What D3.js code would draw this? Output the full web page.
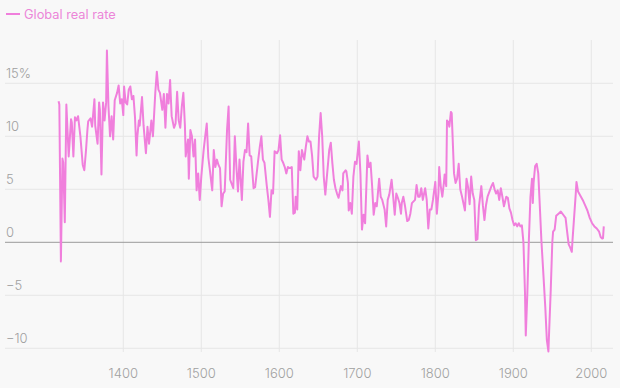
<!DOCTYPE html>
<html>
<head>
<meta charset="utf-8">
<script src="https://cdn.jsdelivr.net/npm/d3@7"></script>
<style>
  html, body { margin: 0; padding: 0; background: #f8f8f8; }
  svg { display: block; font-family: "Inter", "Roboto", "Liberation Sans", sans-serif; }
</style>
</head>
<body>
<svg id="chart" width="620" height="388"></svg>
<script>
const seriesName = "Global real rate";
const xTicks = [1400, 1500, 1600, 1700, 1800, 1900, 2000];
const yTicks = [-10, -5, 0, 5, 10, 15];
const yTickLabels = ["\u221210", "\u22125", "0", "5", "10", "15%"];

const years = [
1317,1318,1320,1322,1323,1325,1327,1330,1333,1334,1336,1338,1340,1342,1345,1348,1350,1352,1354,1355,
1358,1360,1363,1364,1367,1369,1370,1372,1374,1376,1378,1379,1381,1383,1385,1387,1389,1392,1394,1396,
1398,1400,1401,1403,1405,1407,1409,1411,1413,1415,1417,1418,1420,1421,1424,1426,1429,1431,1433,1436,
1438,1441,1443,1445,1447,1450,1452,1454,1456,1458,1460,1462,1465,1467,1469,1471,1473,1475,1477,1479,
1480,1483,1484,1486,1488,1490,1492,1494,1496,1498,1500,1503,1505,1507,1509,1511,1514,1516,1518,1520,
1522,1524,1526,1528,1530,1533,1535,1537,1539,1541,1543,1545,1547,1549,1552,1554,1556,1558,1560,1562,
1564,1565,1567,1569,1573,1575,1577,1579,1581,1584,1586,1588,1590,1592,1594,1597,1599,1601,1603,1605,
1607,1609,1611,1613,1616,1618,1620,1621,1623,1625,1627,1629,1632,1634,1636,1638,1640,1642,1644,1647,
1649,1651,1653,1655,1657,1659,1661,1664,1666,1668,1670,1672,1674,1676,1679,1681,1682,1685,1686,1688,
1689,1691,1693,1695,1697,1699,1702,1704,1706,1708,1710,1713,1715,1717,1719,1721,1723,1725,1728,1730,
1732,1735,1737,1739,1741,1744,1746,1748,1750,1752,1754,1756,1757,1759,1761,1764,1766,1768,1770,1774,
1776,1778,1780,1782,1784,1787,1789,1791,1793,1795,1797,1800,1802,1804,1805,1807,1809,1811,1812,1814,
1815,1817,1818,1820,1821,1822,1824,1826,1828,1830,1832,1834,1836,1838,1840,1842,1844,1846,1848,1850,
1852,1854,1856,1859,1861,1863,1865,1867,1870,1872,1874,1876,1878,1880,1882,1884,1886,1888,1891,1893,
1895,1897,1899,1901,1903,1905,1907,1909,1911,1913,1915,1916,1918,1920,1922,1924,1925,1926,1928,1930,
1932,1934,1936,1938,1941,1943,1945,1946,1948,1950,1951,1953,1955,1958,1961,1964,1967,1969,1971,1973,
1975,1976,1978,1980,1981,1983,1986,1989,1992,1995,1998,2001,2004,2007,2010,2012,2014,2015,2016
];
const rates = [
13.3,13.0,-1.8,7.9,7.5,1.9,13.0,8.1,11.6,11.3,8.1,11.8,11.5,11.9,10.0,7.3,6.8,8.5,10.6,11.4,
11.7,10.9,13.5,11.0,9.3,13.2,12.5,6.4,13.2,11.5,13.2,18.1,12.8,10.0,11.9,9.7,13.4,14.1,14.8,13.1,
13.5,12.0,14.7,13.2,13.0,14.4,14.7,13.5,13.8,11.8,8.2,10.0,11.5,11.0,13.7,11.0,8.4,10.9,9.3,11.5,
10.0,14.1,16.1,14.4,14.1,12.5,14.0,10.8,14.0,13.1,15.3,11.9,10.8,11.2,14.2,11.5,10.8,12.8,14.1,11.0,
8.1,9.7,6.0,10.6,10.0,8.1,9.7,4.9,6.5,4.0,6.2,8.7,10.0,11.2,8.0,6.8,4.9,8.7,7.1,7.8,
7.3,7.0,3.4,4.6,4.8,10.6,12.8,5.9,5.5,5.1,10.0,7.1,4.8,7.8,4.0,7.6,8.7,8.5,11.2,8.2,
8.1,7.1,5.1,5.2,7.8,9.0,10.0,7.8,7.5,5.3,4.0,2.4,4.9,4.6,8.6,8.4,8.7,10.1,7.8,7.5,
7.1,6.5,7.1,7.0,7.1,2.7,2.8,4.3,3.1,8.6,6.8,8.7,7.8,9.0,10.0,9.5,9.5,8.2,6.2,5.9,
6.2,10.0,12.2,10.0,6.2,4.5,6.2,8.7,9.4,7.5,5.9,5.1,4.6,4.2,5.3,4.9,6.5,6.8,6.7,5.6,
3.0,3.7,2.7,6.2,7.6,7.4,9.5,6.5,1.2,2.6,1.8,8.2,7.1,7.5,5.3,2.6,3.7,3.4,6.0,4.3,
4.0,3.1,1.5,4.0,4.5,5.9,4.3,2.6,4.6,4.2,3.7,2.7,3.7,4.3,3.5,2.0,2.1,2.7,3.7,4.0,
5.4,4.3,4.3,5.1,4.0,5.1,4.0,1.3,3.1,3.1,4.0,5.7,2.7,4.6,7.1,5.3,4.3,5.6,6.4,5.3,
11.5,11.3,10.9,12.3,12.2,10.3,6.5,5.6,6.0,7.4,5.0,4.4,3.7,3.0,6.0,5.2,3.6,6.2,4.6,4.0,
0.2,0.3,3.4,5.3,3.5,2.1,3.5,4.3,4.9,5.3,5.6,5.0,4.6,4.9,4.0,5.1,4.3,3.4,4.3,4.2,
3.2,2.8,2.1,1.6,1.8,1.5,1.8,1.5,1.6,0.0,-4.8,-8.8,-4.8,0.3,4.3,6.0,3.7,5.6,7.2,7.4,
6.5,3.4,0.2,-2.3,-6.1,-9.2,-10.3,-8.3,-4.5,0.0,1.0,1.2,2.5,2.7,2.9,2.6,2.3,1.0,-0.2,-0.5,
-0.9,0.3,2.4,4.5,5.7,4.8,4.4,4.0,3.5,3.0,2.3,1.8,1.5,1.3,1.0,0.5,0.35,0.4,1.5
];

const lineColor = "#f07fdc";
const svg = d3.select("#chart");

const x = d3.scaleLinear().domain([1400, 2000]).range([123.3, 591.3]);
const y = d3.scaleLinear().domain([-10, 15]).range([348.3, 83.3]);

// vertical gridlines
svg.append("g").selectAll("line").data(xTicks).join("line")
  .attr("x1", d => x(d)).attr("x2", d => x(d))
  .attr("y1", 40).attr("y2", 352)
  .attr("stroke", "#e6e6e6").attr("stroke-width", 1);

// horizontal gridlines
svg.append("g").selectAll("line").data(yTicks).join("line")
  .attr("x1", 5).attr("x2", 613)
  .attr("y1", d => y(d)).attr("y2", d => y(d))
  .attr("stroke", d => d === 0 ? "#9a9a9a" : "#e6e6e6")
  .attr("stroke-width", 1);

// y labels
svg.append("g").selectAll("text").data(yTicks).join("text")
  .attr("x", 6).attr("y", d => y(d) - 5)
  .attr("fill", "#a0a0a0").attr("font-size", 13).attr("font-weight", 300)
  .text((d, i) => yTickLabels[i]);

// x labels
svg.append("g").selectAll("text").data(xTicks).join("text")
  .attr("x", d => x(d)).attr("y", 378)
  .attr("text-anchor", "middle")
  .attr("fill", "#a0a0a0").attr("font-size", 13).attr("font-weight", 300)
  .text(d => d);

// line
const data = years.map((yr, i) => ({ year: yr, value: rates[i] }));
svg.append("path").datum(data)
  .attr("fill", "none").attr("stroke", lineColor).attr("stroke-width", 2)
  .attr("stroke-linejoin", "round")
  .attr("d", d3.line().x(d => x(d.year)).y(d => y(d.value)));

// legend
svg.append("line").attr("x1", 6).attr("x2", 20).attr("y1", 14).attr("y2", 14)
  .attr("stroke", lineColor).attr("stroke-width", 2);
svg.append("text").attr("x", 24).attr("y", 18.5)
  .attr("fill", "#ec86d8").attr("font-size", 12.8).text(seriesName);
</script>
</body>
</html>
